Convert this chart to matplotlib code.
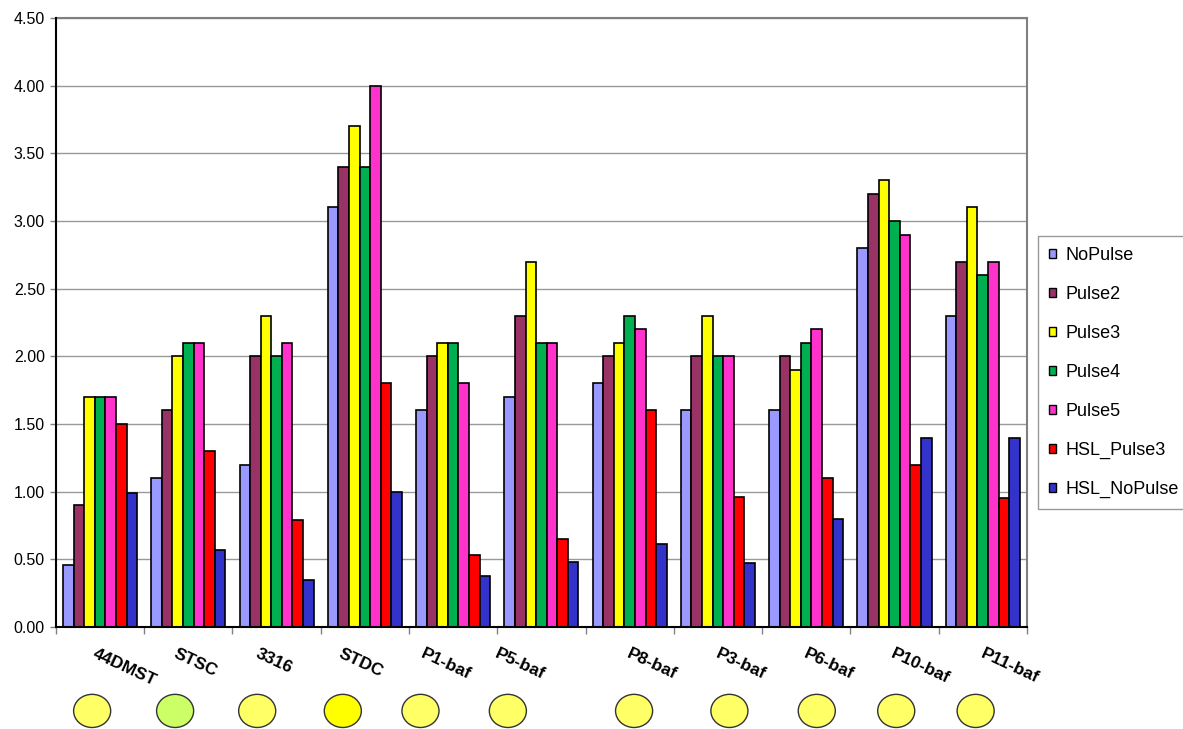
import numpy as np
import matplotlib
matplotlib.use('Agg')
import matplotlib.pyplot as plt
from matplotlib.patches import Ellipse, Patch

plt.rcParams['font.family'] = ['Liberation Sans', 'DejaVu Sans']

# categorias e series
categories = ['44DMST', 'STSC', '3316', 'STDC', 'P1-baf', 'P5-baf',
              'P8-baf', 'P3-baf', 'P6-baf', 'P10-baf', 'P11-baf']
series_names = ['NoPulse', 'Pulse2', 'Pulse3', 'Pulse4', 'Pulse5',
                'HSL_Pulse3', 'HSL_NoPulse']

no_pulse     = [0.46, 1.10, 1.20, 3.10, 1.60, 1.70, 1.80, 1.60, 1.60, 2.80, 2.30]
pulse2       = [0.90, 1.60, 2.00, 3.40, 2.00, 2.30, 2.00, 2.00, 2.00, 3.20, 2.70]
pulse3       = [1.70, 2.00, 2.30, 3.70, 2.10, 2.70, 2.10, 2.30, 1.90, 3.30, 3.10]
pulse4       = [1.70, 2.10, 2.00, 3.40, 2.10, 2.10, 2.30, 2.00, 2.10, 3.00, 2.60]
pulse5       = [1.70, 2.10, 2.10, 4.00, 1.80, 2.10, 2.20, 2.00, 2.20, 2.90, 2.70]
hsl_pulse3   = [1.50, 1.30, 0.79, 1.80, 0.53, 0.65, 1.60, 0.96, 1.10, 1.20, 0.95]
hsl_no_pulse = [0.99, 0.57, 0.35, 1.00, 0.38, 0.48, 0.61, 0.47, 0.80, 1.40, 1.40]

series = [no_pulse, pulse2, pulse3, pulse4, pulse5, hsl_pulse3, hsl_no_pulse]
cores = ['#9999FF', '#993366', '#FFFF00', '#00B050', '#FF33CC', '#FF0000', '#3333CC']

# circulos abaixo dos rotulos (cor de cada amostra)
circle_colors = ['#FFFF66', '#CCFF66', '#FFFF66', '#FFFF00', '#FFFF66', '#FFFF66',
                 '#FFFF66', '#FFFF66', '#FFFF66', '#FFFF66', '#FFFF66']
circle_x = [-0.09, 0.85, 1.78, 2.75, 3.63, 4.62, 6.05, 7.13, 8.12, 9.02, 9.92]
label_x  = [-0.04, 0.88, 1.81, 2.75, 3.68, 4.52, 6.02, 7.02, 8.02, 9.01, 10.02]

fig = plt.figure(figsize=(11.83, 7.29), dpi=100)
ax = fig.add_axes([0.0473, 0.1399, 0.8207, 0.8354])

n = len(series)
width = 0.12
x = np.arange(len(categories))
for i, (vals, c) in enumerate(zip(series, cores)):
    ax.bar(x + (i - (n - 1) / 2) * width, vals, width, color=c,
           edgecolor='black', linewidth=1.2, zorder=3, label=series_names[i])

ax.set_xlim(-0.5, len(categories) - 0.5)
ax.set_ylim(0, 4.5)
ax.set_yticks(np.arange(0, 4.51, 0.5))
ax.set_yticklabels(['%.2f' % v for v in np.arange(0, 4.51, 0.5)], fontsize=11.5)
ax.yaxis.grid(True, color='#999999', linewidth=1.0, zorder=0)
ax.tick_params(axis='y', length=4, width=1, color='#808080', pad=4)

ax.set_xticks(np.arange(-0.5, len(categories), 1.0))
ax.set_xticklabels([])
ax.tick_params(axis='x', length=5, width=1, color='#808080')

for s in ['top', 'right']:
    ax.spines[s].set_color('#808080')
    ax.spines[s].set_linewidth(1.5)
for s in ['left', 'bottom']:
    ax.spines[s].set_color('black')
    ax.spines[s].set_linewidth(1.5)
    ax.spines[s].set_zorder(5)

# rotulos inclinados
for lx, lab in zip(label_x, categories):
    ax.text(lx, -0.14, lab, rotation=-25, rotation_mode='anchor',
            ha='left', va='top', fontsize=12.5, fontweight='bold',
            transform=ax.transData, clip_on=False)

# elipses coloridas
trans = ax.transData
for cx, cc in zip(circle_x, circle_colors):
    e = Ellipse((cx, -0.62), 0.42, 0.245, facecolor=cc, edgecolor='#333333',
                linewidth=1.0, clip_on=False, transform=trans)
    ax.add_patch(e)

handles = [Patch(facecolor=c, edgecolor='black', label=nm)
           for c, nm in zip(cores, series_names)]
leg = fig.legend(handles=handles, loc='upper left',
                 bbox_to_anchor=(1038 / 1183, 1 - 236 / 729),
                 fontsize=13, frameon=True, fancybox=False,
                 edgecolor='#808080', handlelength=0.4, handleheight=0.4,
                 handletextpad=0.5, labelspacing=1.22, borderpad=0.6,
                 borderaxespad=0)
leg.get_frame().set_linewidth(1.0)

fig.savefig('out.png', dpi=100)
